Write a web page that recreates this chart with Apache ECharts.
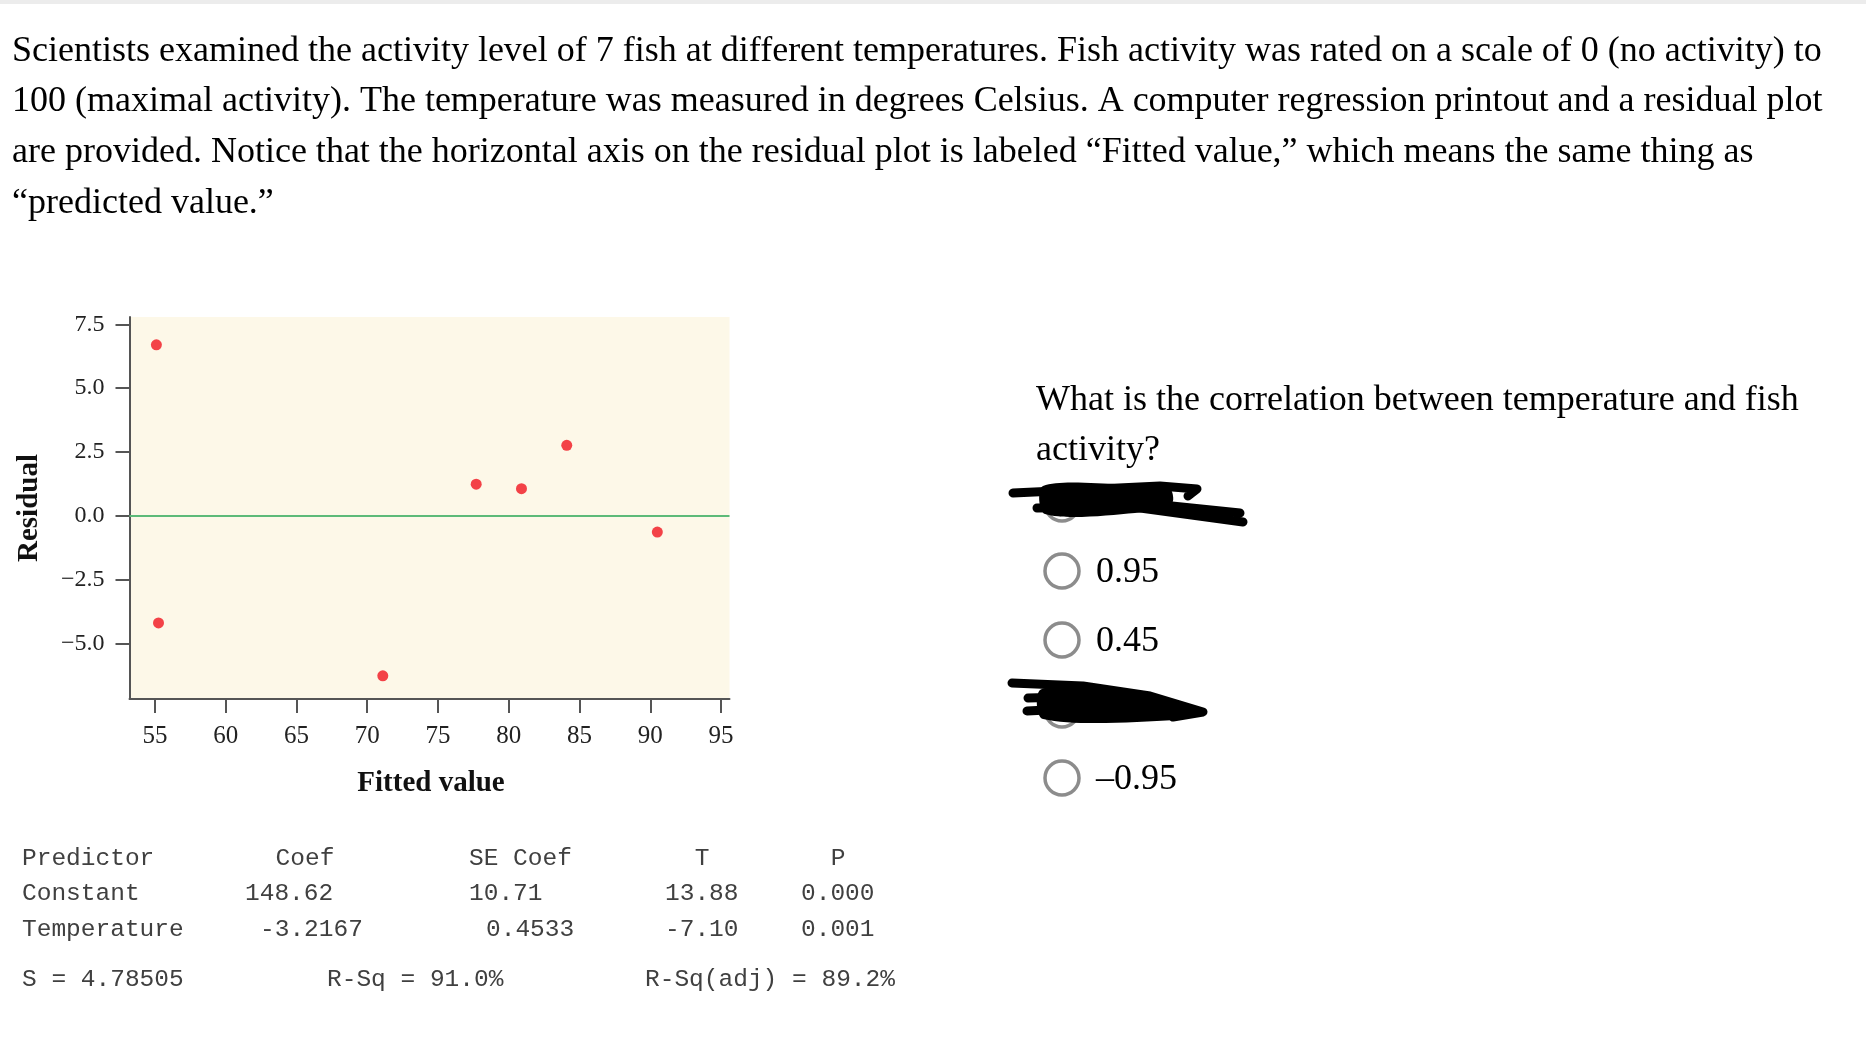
<!DOCTYPE html>
<html>
<head>
<meta charset="utf-8">
<script src="https://cdn.jsdelivr.net/npm/echarts@6/dist/echarts.min.js"></script>
<style>
html,body{margin:0;padding:0;background:#fff;}
#c{width:1866px;height:1048px;}
</style>
</head>
<body>
<div id="c"></div>
<script>
// ---- data ----
var fittedValues = [55.1, 55.25, 71.1, 77.7, 80.9, 84.1, 90.5];
var residuals = [6.70, -4.20, -6.27, 1.24, 1.06, 2.76, -0.64];
var xTickValues = [55, 60, 65, 70, 75, 80, 85, 90, 95];
var yTickValues = [-5, -2.5, 0, 2.5, 5, 7.5];
var yTickLabels = ["\u22125.0", "\u22122.5", "0.0", "2.5", "5.0", "7.5"];

var paragraphLines = [
  "Scientists examined the activity level of 7 fish at different temperatures. Fish activity was rated on a scale of 0 (no activity) to",
  "100 (maximal activity). The temperature was measured in degrees Celsius. A computer regression printout and a residual plot",
  "are provided. Notice that the horizontal axis on the residual plot is labeled \u201cFitted value,\u201d which means the same thing as",
  "\u201cpredicted value.\u201d"
];
var questionLines = ["What is the correlation between temperature and fish", "activity?"];
var optionLabels = ["", "0.95", "0.45", "", "\u20130.95"];

var tableHeader = ["Predictor", "Coef", "SE Coef", "T", "P"];
var tableRowConstant = ["Constant", "148.62", "10.71", "13.88", "0.000"];
var tableRowTemperature = ["Temperature", "-3.2167", "0.4533", "-7.10", "0.001"];
var tableSummary = ["S = 4.78505", "R-Sq = 91.0%", "R-Sq(adj) = 89.2%"];

// ---- layout helpers ----
var serif = '"Liberation Serif", "Times New Roman", serif';
var mono = '"Liberation Mono", "Courier New", monospace';

function txt(s, x, y, opt) {
  opt = opt || {};
  return {
    type: 'text', silent: true, z: 10,
    style: {
      text: s, x: x, y: y,
      font: opt.font || ('36px ' + serif),
      fill: opt.fill || '#000',
      textAlign: opt.align || 'left', align: opt.align || 'left',
      textVerticalAlign: 'middle', verticalAlign: 'middle'
    }
  };
}

var graphics = [];
// top gray band
graphics.push({type: 'rect', silent: true, shape: {x: 0, y: 0, width: 1866, height: 4}, style: {fill: '#ececec'}});

var paraY = [52, 102, 153, 204];
paragraphLines.forEach(function (l, i) { graphics.push(txt(l, 12, paraY[i], {font: '36px ' + serif})); });

graphics.push(txt(questionLines[0], 1036, 401, {font: '36px ' + serif}));
graphics.push(txt(questionLines[1], 1036, 451, {font: '36px ' + serif}));

var optY = [504, 571, 640, 710, 778];
optY.forEach(function (y, i) {
  graphics.push({type: 'circle', silent: true, shape: {cx: 1062, cy: y, r: 17}, style: {fill: '#fff', stroke: '#8c8c8c', lineWidth: 3.5}});
  if (optionLabels[i]) graphics.push(txt(optionLabels[i], 1096, y + 2, {font: '36px ' + serif}));
});

// scribbles (redaction marks)
function stroke(pts) {
  return {type: 'polyline', silent: true, z: 20, shape: {points: pts}, style: {stroke: '#000', lineWidth: 9, lineCap: 'round', lineJoin: 'round', fill: null}};
}
function blob(pts) {
  return {type: 'polygon', silent: true, z: 20, shape: {points: pts, smooth: 0.3}, style: {fill: '#000'}};
}
graphics.push(blob([[1043,486],[1120,484],[1168,486],[1172,503],[1135,513],[1045,514]]));
graphics.push(stroke([[1013,493],[1077,490],[1160,486],[1197,489],[1188,496]]));
graphics.push(stroke([[1037,508],[1133,507],[1243,522]]));
graphics.push(stroke([[1133,502],[1240,513]]));
graphics.push(blob([[1040,690],[1083,688],[1150,696],[1200,711],[1175,720],[1043,719]]));
graphics.push(stroke([[1012,683],[1083,686],[1150,696],[1203,712],[1173,717]]));
graphics.push(stroke([[1028,698],[1067,697]]));
graphics.push(stroke([[1027,711],[1067,709]]));

// axis titles
graphics.push({type: 'text', silent: true, rotation: Math.PI / 2, x: 30, y: 508,
  style: {text: 'Residual', x: 0, y: 0, font: 'bold 29px ' + serif, fill: '#111', textAlign: 'center', align: 'center', textVerticalAlign: 'middle', verticalAlign: 'middle'}});
graphics.push(txt('Fitted value', 431, 784, {font: 'bold 29px ' + serif, align: 'center', fill: '#111'}));

// regression table
var tf = '24.5px ' + mono, tc = '#404040';
var colX = [22, 305, 469, 702, 838];
graphics.push(txt(tableHeader[0], colX[0], 859, {font: tf, fill: tc}));
graphics.push(txt(tableHeader[1], colX[1], 859, {font: tf, fill: tc, align: 'center'}));
graphics.push(txt(tableHeader[2], colX[2], 859, {font: tf, fill: tc}));
graphics.push(txt(tableHeader[3], colX[3], 859, {font: tf, fill: tc, align: 'center'}));
graphics.push(txt(tableHeader[4], colX[4], 859, {font: tf, fill: tc, align: 'center'}));
var rowX1 = [22, 245, 469, 665, 801];
var rowX2 = [22, 260, 486, 665, 801];
tableRowConstant.forEach(function (s, i) { graphics.push(txt(s, rowX1[i], 894, {font: tf, fill: tc})); });
tableRowTemperature.forEach(function (s, i) { graphics.push(txt(s, rowX2[i], 930, {font: tf, fill: tc})); });
var sumX = [22, 327, 645];
tableSummary.forEach(function (s, i) { graphics.push(txt(s, sumX[i], 980, {font: tf, fill: tc})); });

var chart = echarts.init(document.getElementById('c'), null, {renderer: 'canvas'});
chart.setOption({
  animation: false,
  backgroundColor: '#fff',
  grid: {left: 129.5, top: 317, width: 600, height: 382, show: true, backgroundColor: '#fdf8e8', borderWidth: 0},
  xAxis: {
    type: 'value', min: 53.2, max: 95.6,
    axisLine: {show: true, onZero: false, lineStyle: {color: '#555', width: 2}},
    axisTick: {show: true, length: 14, lineStyle: {color: '#555', width: 2}, customValues: xTickValues},
    axisLabel: {show: true, margin: 25, customValues: xTickValues, color: '#222', fontFamily: serif, fontSize: 25,
      showMinLabel: true, showMaxLabel: true},
    splitLine: {show: false}
  },
  yAxis: {
    type: 'value', min: -7.18, max: 7.79,
    axisLine: {show: true, onZero: false, lineStyle: {color: '#555', width: 2}},
    axisTick: {show: true, length: 14, lineStyle: {color: '#555', width: 2}, customValues: yTickValues},
    axisLabel: {show: true, margin: 25, customValues: yTickValues, color: '#222', fontFamily: serif, fontSize: 24,
      formatter: function (v) { var k = yTickValues.indexOf(v); return k >= 0 ? yTickLabels[k] : ''; }},
    splitLine: {show: false}
  },
  series: [{
    type: 'scatter',
    data: fittedValues.map(function (x, i) { return [x, residuals[i]]; }),
    symbolSize: 11,
    itemStyle: {color: '#f0141e'},
    markLine: {
      silent: true, symbol: ['none', 'none'], label: {show: false},
      lineStyle: {color: '#5dba78', width: 2, type: 'solid'},
      data: [{yAxis: 0}]
    }
  }],
  graphic: graphics
});
</script>
</body>
</html>
